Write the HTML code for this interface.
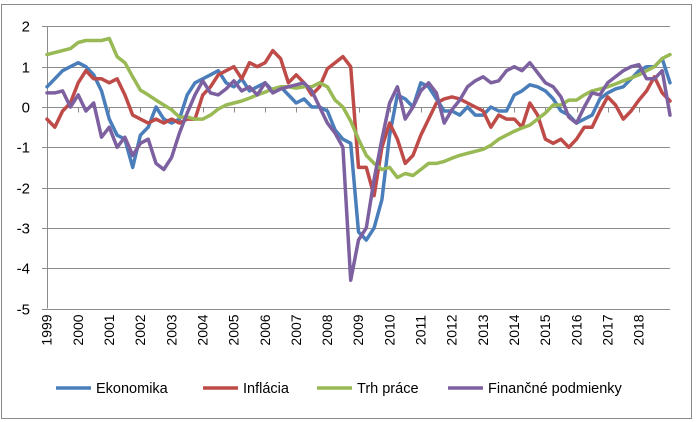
<!DOCTYPE html>
<html><head><meta charset="utf-8"><style>
body{margin:0;background:#fff;}
svg{display:block;font-family:"Liberation Sans",Arial,sans-serif;}
</style></head><body>
<svg id="chart" width="699" height="422" viewBox="0 0 699 422">
<rect x="1.5" y="4.5" width="690" height="414" fill="#fff" stroke="#8a8a8a" stroke-width="1"/>
<g id="grid"></g><g id="axes"></g><g id="series"></g><g id="legend"></g>
</svg>
<script>
const years = ["1999","2000","2001","2002","2003","2004","2005","2006","2007","2008","2009","2010","2011","2012","2013","2014","2015","2016","2017","2018"];
const yTicks = [2,1,0,-1,-2,-3,-4,-5];
const seriesNames = ["Ekonomika","Inflácia","Trh práce","Finančné podmienky"];
const seriesColors = ["#4a7ebb","#be4b48","#98b954","#7d60a0"];
// quarterly values 1999Q1 .. 2018Q4 + end point
const ekonomika = [0.5,0.7,0.9,1.0, 1.1,1.0,0.8,0.4, -0.3,-0.7,-0.8,-1.5, -0.7,-0.5,0.0,-0.3, -0.4,-0.3,0.3,0.6, 0.7,0.8,0.9,0.6, 0.5,0.7,0.4,0.5, 0.6,0.4,0.5,0.3, 0.1,0.2,0.0,0.0, -0.1,-0.57,-0.8,-0.9, -3.1,-3.3,-3.0,-2.3, -0.7,0.3,0.2,0.0, 0.6,0.5,0.2,-0.1, -0.1,-0.2,0.0,-0.2, -0.2,0.0,-0.1,-0.1, 0.3,0.4,0.55,0.5, 0.4,0.2,-0.1,-0.2, -0.4,-0.3,-0.2,0.2, 0.35,0.45,0.5,0.7, 0.9,1.0,1.0,1.2, 0.6];
const inflacia = [-0.3,-0.5,-0.1,0.1, 0.6,0.9,0.7,0.7, 0.6,0.7,0.3,-0.2, -0.3,-0.4,-0.3,-0.4, -0.3,-0.4,-0.3,-0.3, 0.3,0.5,0.8,0.9, 1.0,0.7,1.1,1.0, 1.1,1.4,1.2,0.6, 0.8,0.6,0.3,0.5, 0.95,1.1,1.25,1.0, -1.5,-1.5,-2.2,-1.0, -0.4,-0.8,-1.4,-1.2, -0.7,-0.3,0.1,0.2, 0.25,0.2,0.1,0.0, -0.1,-0.5,-0.2,-0.3, -0.3,-0.5,0.1,-0.2, -0.8,-0.9,-0.8,-1.0, -0.8,-0.5,-0.5,-0.1, 0.25,0.05,-0.3,-0.1, 0.17,0.4,0.75,0.35, 0.15];
const trhPrace = [1.3,1.35,1.4,1.45, 1.6,1.65,1.65,1.65, 1.7,1.25,1.1,0.75, 0.42,0.3,0.17,0.05, -0.07,-0.25,-0.25,-0.3, -0.3,-0.2,-0.05,0.05, 0.1,0.15,0.22,0.3, 0.37,0.45,0.5,0.5, 0.47,0.5,0.5,0.6, 0.5,0.17,0.0,-0.35, -0.8,-1.2,-1.4,-1.55, -1.5,-1.75,-1.65,-1.7, -1.55,-1.4,-1.4,-1.35, -1.27,-1.2,-1.15,-1.1, -1.05,-0.95,-0.8,-0.7, -0.6,-0.52,-0.45,-0.3, -0.15,0.05,0.05,0.17, 0.17,0.3,0.4,0.45, 0.5,0.57,0.65,0.72, 0.8,0.9,1.0,1.2, 1.3];
const financne = [0.35,0.35,0.4,0.0, 0.3,-0.1,0.1,-0.75, -0.5,-1.0,-0.75,-1.2, -0.9,-0.8,-1.4,-1.55, -1.25,-0.65,-0.15,0.3, 0.65,0.35,0.3,0.45, 0.65,0.4,0.5,0.3, 0.6,0.35,0.45,0.5, 0.55,0.6,0.4,0.0, -0.4,-0.65,-1.0,-4.3, -3.3,-3.0,-1.8,-0.8, 0.1,0.5,-0.3,0.0, 0.4,0.6,0.35,-0.4, -0.07,0.17,0.5,0.65, 0.75,0.6,0.65,0.9, 1.0,0.9,1.1,0.85, 0.6,0.5,0.25,-0.25, -0.4,0.0,0.35,0.3, 0.6,0.75,0.9,1.0, 1.05,0.7,0.7,0.9, -0.2];
const allSeries = [ekonomika, inflacia, trhPrace, financne];

const NS="http://www.w3.org/2000/svg";
const X0=47, X1=670, Y0=107, PX=40.3;
function xScale(t){return X0+(X1-X0)*t/years.length;}
function yScale(v){return Y0-v*PX;}
function mk(tag,attrs,parent){const e=document.createElementNS(NS,tag);for(const k in attrs)e.setAttribute(k,attrs[k]);parent.appendChild(e);return e;}
const grid=document.getElementById('grid'),axes=document.getElementById('axes'),ser=document.getElementById('series'),leg=document.getElementById('legend');
yTicks.forEach(v=>{
  const y=Math.round(yScale(v))+0.5;
  if(v!==-5){const l=mk('line',{x1:X0,x2:X1,y1:y,y2:y,stroke:'#8c8c8c','stroke-width':1},grid);
  
  }
  const tk=mk('line',{x1:X0-5,x2:X0,y1:y,y2:y,stroke:'#8c8c8c'},axes);
  
  
  const t=mk('text',{x:30,y:y+5,'text-anchor':'end','font-size':15,fill:'#000'},axes);
  t.textContent=String(v);
  
  
});
const ax=mk('line',{x1:X0+0.5,x2:X0+0.5,y1:yScale(2),y2:yScale(-5),stroke:'#8c8c8c'},axes);


const xa=mk('line',{x1:X0,x2:X1,y1:Math.round(yScale(-5))+0.5,y2:Math.round(yScale(-5))+0.5,stroke:'#8c8c8c'},axes);


const x0y=Math.round(yScale(0))+0.5;
years.forEach((yr,i)=>{
  const x=Math.round(xScale(i))+0.5;
  const tk=mk('line',{x1:x,x2:x,y1:x0y,y2:x0y+5,stroke:'#8c8c8c'},axes);
  
  
  const cx=xScale(i)+1, cy=330;
  const t=mk('text',{x:cx,y:cy,'text-anchor':'middle','font-size':14,fill:'#000',transform:`rotate(-90 ${cx} ${cy})`,'dominant-baseline':'middle'},axes);
  t.textContent=yr;
  
  
});
allSeries.forEach((arr,s)=>{
  const pts=arr.map((v,i)=>xScale(i/4).toFixed(1)+','+yScale(v).toFixed(1)).join(' ');
  const p=mk('polyline',{points:pts,fill:'none',stroke:seriesColors[s],'stroke-width':3.5,'stroke-linejoin':'round','stroke-linecap':'round'},ser);
  
  
});
const legX=[56,203,317,448];
seriesNames.forEach((n,s)=>{
  const g=mk('g',{},leg);
  
  
  mk('line',{x1:legX[s],x2:legX[s]+35,y1:388,y2:388,stroke:seriesColors[s],'stroke-width':3.5},g);
  const t=mk('text',{x:legX[s]+40,y:393,'font-size':14.5,fill:'#000'},g);
  t.textContent=n;
});
</script>
</body></html>
